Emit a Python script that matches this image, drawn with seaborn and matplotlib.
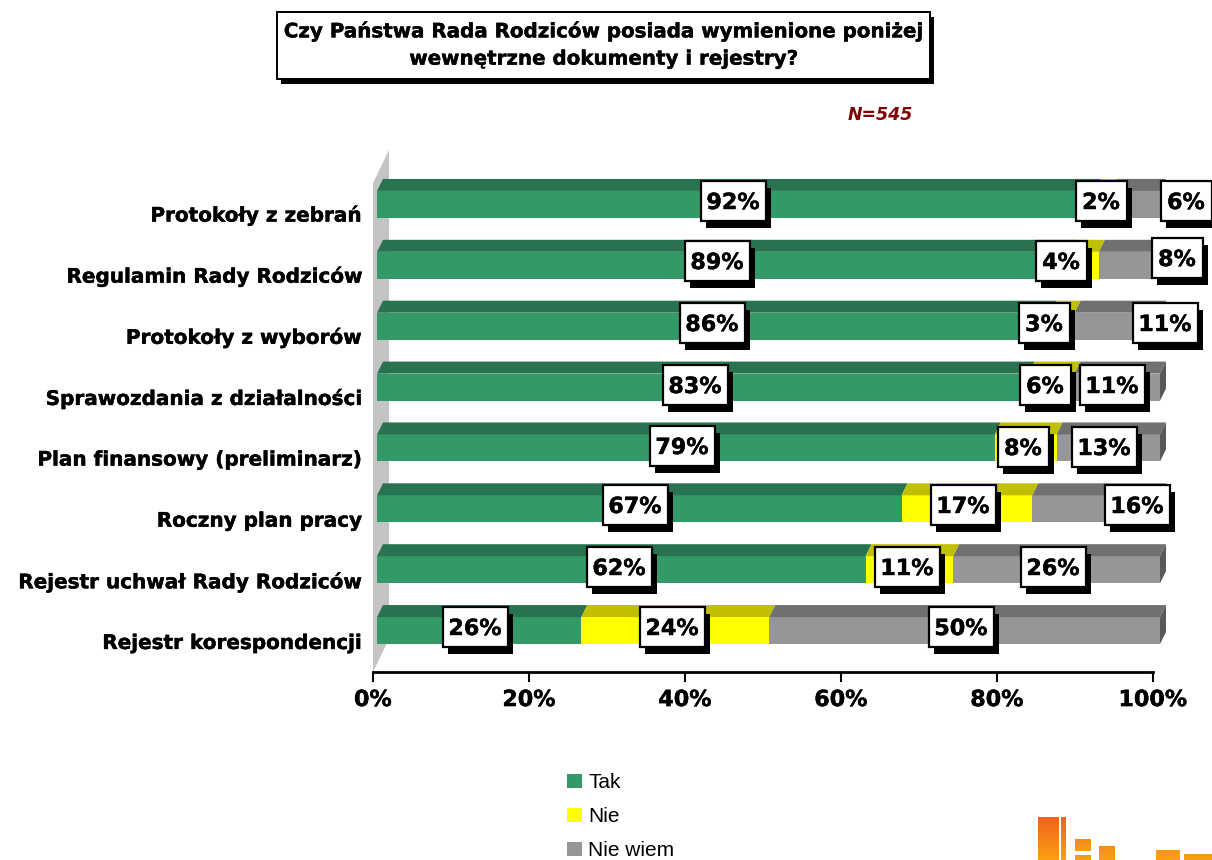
import matplotlib
matplotlib.use("Agg")
import matplotlib.pyplot as plt
import matplotlib.patheffects as pe
from matplotlib.colors import LinearSegmentedColormap
from matplotlib.patches import Rectangle, Patch
from matplotlib.ticker import FuncFormatter
import seaborn as sns
import numpy as np

# Values
categories = ["Protokoły z zebrań", "Regulamin Rady Rodziców", "Protokoły z wyborów",
              "Sprawozdania z działalności", "Plan finansowy (preliminarz)",
              "Roczny plan pracy", "Rejestr uchwał Rady Rodziców", "Rejestr korespondencji"]
tak = [91.7, 88.6, 86.0, 83.2, 78.9, 67.0, 62.4, 26.1]
nie = [2.0, 3.6, 3.1, 5.9, 7.9, 16.7, 11.2, 24.0]
nie_wiem = [6.3, 7.8, 10.9, 10.9, 13.2, 16.3, 26.4, 49.9]
series_names = ["Tak", "Nie", "Nie wiem"]
x_ticks = [0, 20, 40, 60, 80, 100]

W, H = 1212, 860
front = ["#339966", "#ffff00", "#969696"]
top = ["#2a7350", "#c0c000", "#707070"]
side = "#595959"

sns.set_theme(style="white")
plt.rcParams["font.family"] = ["DejaVu Sans"]

# Tahoma bold in the original is a bit heavier than DejaVu bold
heavy = [pe.withStroke(linewidth=0.3, foreground="black")]


def px_axes(fig, x0, x1, y0, y1):
    # axes placed from pixel edges, y counted from the top
    return fig.add_axes([x0 / W, 1 - y1 / H, (x1 - x0) / W, (y1 - y0) / H])


fig = plt.figure(figsize=(W / 100, H / 100), dpi=100, facecolor="white")

# Base axes: the wall, the percent axis and the category labels
base = px_axes(fig, 373, 1153, 183, 672)
base.set_xlim(0, 100)
base.set_ylim(len(categories) - 0.5, -0.5)
base.set_yticks(range(len(categories)))
base.set_yticklabels(categories, fontsize=14.4, fontweight="bold", color="black")
base.set_xticks(x_ticks)
base.xaxis.set_major_formatter(FuncFormatter(lambda v, _: f"{v:.0f}%"))
base.tick_params(axis="x", length=7, width=1.5, labelsize=16, pad=6, color="black",
                 labelcolor="black", bottom=True)
base.tick_params(axis="y", length=0, pad=8)
for lab in base.get_xticklabels():
    lab.set_fontweight("bold")
    lab.set_path_effects(heavy)
for lab in base.get_yticklabels():
    lab.set_path_effects(heavy)
for s in ["top", "right", "left"]:
    base.spines[s].set_visible(False)
base.spines["bottom"].set_linewidth(2)
base.spines["bottom"].set_color("black")
base.patch.set_visible(False)

# Side wall of the 3D chart
wall_dx = 16 / 7.8
wall_dy = 33 / (489 / 8)
base.fill([0, wall_dx, wall_dx, 0],
          [-0.5, -0.5 - wall_dy, 7.5 - wall_dy, 7.5],
          color="#c4c4c4", lw=0, clip_on=False, zorder=1)

# Bar axes: front faces sit a little off the base, as in the 3D original
ax = px_axes(fig, 377, 1160, 174, 661)
ax.patch.set_visible(False)
px_x = 100 / 783
px_y = 8 / 487
bar_w = 27 * px_y

lefts = np.zeros(len(categories))
for name, vals, col in zip(series_names, [tak, nie, nie_wiem], front):
    sns.barplot(x=vals, y=categories, left=lefts, color=col, width=bar_w, orient="h",
                saturation=1, linewidth=0, label=name, legend=False, ax=ax, zorder=2)
    lefts = lefts + np.array(vals)
ax.set_xlim(0, 100)
ax.set_ylim(len(categories) - 0.5, -0.5)
ax.axis("off")

# Top faces and the right end of each stacked bar
dx, dy = 6 * px_x, 12 * px_y
for i in range(len(categories)):
    y0 = i - bar_w / 2
    start = 0
    for vals, col in zip([tak, nie, nie_wiem], top):
        end = start + vals[i]
        ax.fill([start, end, end + dx, start + dx], [y0, y0, y0 - dy, y0 - dy],
                color=col, lw=0, clip_on=False, zorder=2)
        start = end
    ax.fill([100, 100 + dx, 100 + dx, 100],
            [y0, y0 - dy, y0 + bar_w - dy, y0 + bar_w],
            color=side, lw=0, clip_on=False, zorder=2)

# Value boxes were dragged by hand in the original, so centres are listed in pixels
box_centres = [[(733, 201), (1101, 201), (1186, 201)],
               [(717, 261), (1061, 261), (1177, 258)],
               [(712, 323), (1044, 323), (1165, 323)],
               [(695, 385), (1045, 385), (1112, 385)],
               [(682, 446), (1023, 447), (1104, 447)],
               [(635, 505), (963, 505), (1137, 505)],
               [(619, 567), (907, 567), (1053, 567)],
               [(475, 627), (672, 627), (961, 627)]]
for i, row in enumerate(box_centres):
    for j, (cx, cy) in enumerate(row):
        val = [tak, nie, nie_wiem][j][i]
        txt = f"{val:.0f}%"
        bw = 51 if len(txt) == 2 else 65
        bx = (cx - 377) * px_x
        by = (cy - 174) * px_y - 0.5
        w, h = bw * px_x, 40 * px_y
        ax.add_patch(Rectangle((bx - w / 2 + 5 * px_x, by - h / 2 + 7 * px_y), w, h, fc="black",
                               ec="none", clip_on=False, zorder=5))
        ax.add_patch(Rectangle((bx - w / 2, by - h / 2), w, h, fc="white", ec="black", lw=1.6,
                               clip_on=False, zorder=6))
        ax.text(bx, by, txt, ha="center", va="center_baseline", fontsize=16, fontweight="bold",
                color="black", zorder=7, clip_on=False, path_effects=heavy)

# Title box
fig.add_artist(Rectangle((281 / W, 1 - 84 / H), 653 / W, 67 / H, fc="black", ec="none",
                         transform=fig.transFigure))
fig.add_artist(Rectangle((277 / W, 1 - 79 / H), 653 / W, 67 / H, fc="white", ec="black", lw=1.4,
                         transform=fig.transFigure))
fig.text(604 / W, 1 - 45 / H, "Czy Państwa Rada Rodziców posiada wymienione poniżej\nwewnętrzne dokumenty i rejestry?",
         ha="center", va="center", fontsize=14.3, fontweight="bold", color="black", linespacing=1.55,
         path_effects=heavy)
fig.text(880 / W, 1 - 115 / H, "N=545", ha="center", va="center", fontsize=12.5, fontweight="bold",
         fontstyle="oblique", color="#800000")

# Legend
handles = [Patch(fc=c, ec="none") for c in front]
leg = fig.legend(handles, series_names, loc="upper left", bbox_to_anchor=(559 / W, 1 - 765 / H),
                 frameon=False, prop={"family": "Liberation Sans", "size": 15}, handlelength=0.72,
                 handleheight=0.72, handletextpad=0.28, labelspacing=0.72, borderaxespad=0,
                 labelcolor="black")

# Orange logo cut off at the bottom right corner
logo_cmap = LinearSegmentedColormap.from_list("logo", ["#f0641e", "#fb9f12"])
logo_bits = [(1038, 1059, 817, 860, 0.0), (1061, 1066, 817, 860, 0.0),
             (1075, 1091, 839, 851, 0.6), (1075, 1091, 855, 860, 0.8),
             (1099, 1115, 846, 860, 0.7), (1156, 1180, 850, 860, 0.8),
             (1184, 1212, 854, 860, 0.85)]
for x0, x1, y0, y1, shade in logo_bits:
    bit = px_axes(fig, x0, x1, y0, y1)
    bit.imshow(np.linspace(shade, 1, 32).reshape(-1, 1), cmap=logo_cmap, vmin=0, vmax=1, aspect="auto")
    bit.axis("off")

fig.savefig("out.png", dpi=100)
